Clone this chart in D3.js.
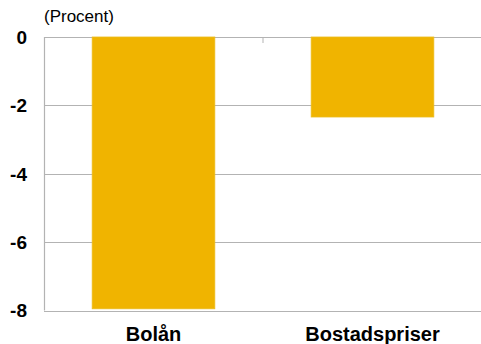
<!DOCTYPE html>
<html>
<head>
<meta charset="utf-8">
<script src="https://cdn.jsdelivr.net/npm/d3@7.9.0/dist/d3.min.js"></script>
<style>
  body { margin: 0; background: #fff; }
  text { font-family: "Liberation Sans", Arial, sans-serif; }
</style>
</head>
<body>
<div id="chart"></div>
<script>
const width = 481;
const height = 344;

const categories = ['Bolån', 'Bostadspriser'];
const values = [-7.95, -2.34];
const yTicks = [0, -2, -4, -6, -8];

const margin = { top: 37, right: 0, bottom: 34, left: 44 };

const svg = d3.select('#chart')
  .append('svg')
  .attr('width', width)
  .attr('height', height);

const xScale = d3.scaleBand()
  .domain(categories)
  .range([margin.left, width + 1])
  .paddingInner(0.44)
  .paddingOuter(0.22);

const yScale = d3.scaleLinear()
  .domain([-8, 0])
  .range([height - margin.bottom + 0.5, margin.top]);

// gridlines
svg.append('g')
  .selectAll('line')
  .data(yTicks)
  .join('line')
  .attr('x1', margin.left)
  .attr('x2', width)
  .attr('y1', d => Math.round(yScale(d)) + 0.5)
  .attr('y2', d => Math.round(yScale(d)) + 0.5)
  .attr('stroke', '#b3b3b3')
  .attr('stroke-width', 1.2);

// left axis line
svg.append('line')
  .attr('x1', margin.left + 0.5)
  .attr('x2', margin.left + 0.5)
  .attr('y1', yScale(0))
  .attr('y2', yScale(-8))
  .attr('stroke', '#b3b3b3')
  .attr('stroke-width', 1.2);

// category separator tick
svg.append('line')
  .attr('x1', margin.left + (width + 1 - margin.left) / 2)
  .attr('x2', margin.left + (width + 1 - margin.left) / 2)
  .attr('y1', yScale(0))
  .attr('y2', yScale(0) + 6)
  .attr('stroke', '#b3b3b3');

// bars
svg.append('g')
  .selectAll('rect')
  .data(categories)
  .join('rect')
  .attr('x', d => xScale(d))
  .attr('width', xScale.bandwidth())
  .attr('y', yScale(0))
  .attr('height', (d, i) => yScale(values[i]) - yScale(0))
  .attr('fill', '#f0b400')
  .attr('stroke', '#ecbc1c')
  .attr('stroke-width', 0.8);

// y tick labels
svg.append('g')
  .selectAll('text')
  .data(yTicks)
  .join('text')
  .attr('x', 27)
  .attr('y', d => yScale(d))
  .attr('dy', '0.36em')
  .attr('text-anchor', 'end')
  .attr('font-size', 19)
  .attr('font-weight', 'bold')
  .text(d => d);

// category labels
svg.append('g')
  .selectAll('text')
  .data(categories)
  .join('text')
  .attr('x', d => xScale(d) + xScale.bandwidth() / 2)
  .attr('y', 341)
  .attr('text-anchor', 'middle')
  .attr('font-size', 20)
  .attr('font-weight', 'bold')
  .text(d => d);

svg.append('text')
  .attr('x', 44)
  .attr('y', 22)
  .attr('font-size', 17)
  .text('(Procent)');
</script>
</body>
</html>
